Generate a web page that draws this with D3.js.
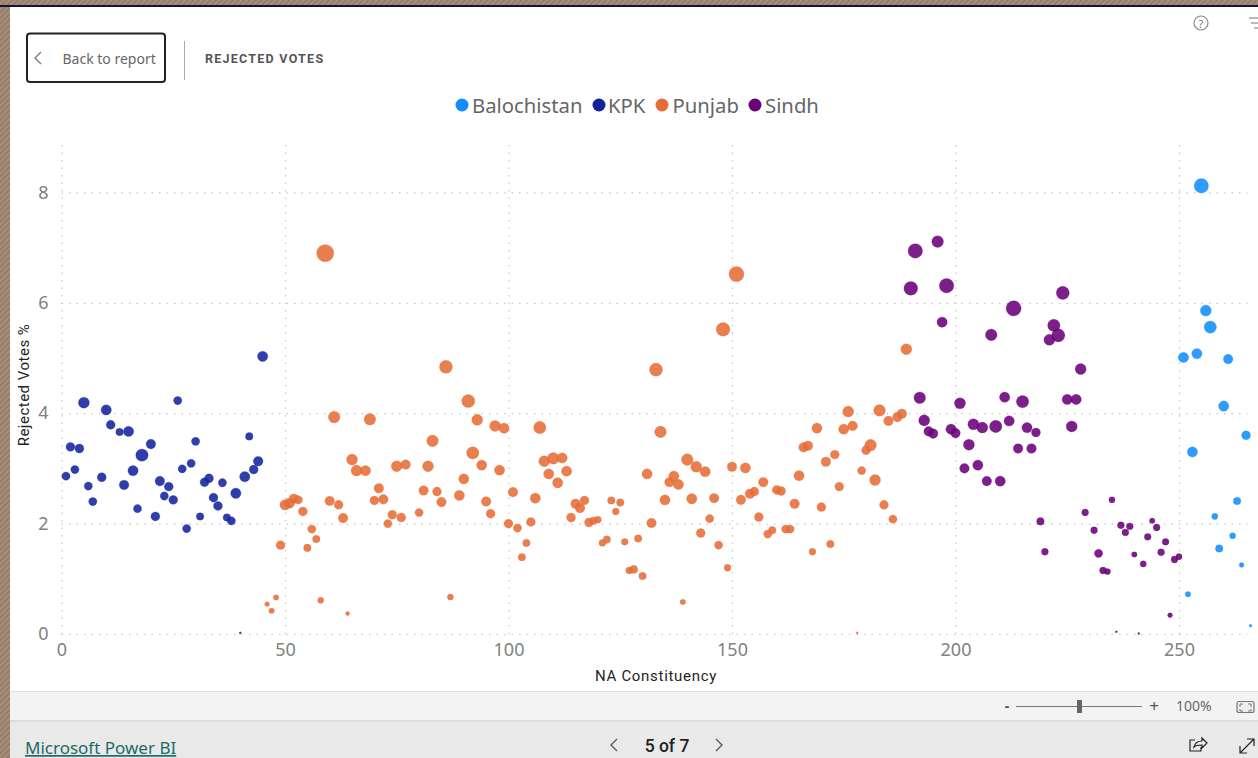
<!DOCTYPE html>
<html><head><meta charset="utf-8">
<script src="https://cdnjs.cloudflare.com/ajax/libs/d3/7.8.5/d3.min.js"></script>
<style>
html,body{margin:0;padding:0;background:#fff;overflow:hidden}
svg{display:block}
text{font-family:"Noto Sans","Open Sans",sans-serif}
</style></head><body><svg id="c" width="1258" height="758"></svg>
<script>
const regions = ["Balochistan","KPK","Punjab","Sindh"];
const regionColors = ["#118DFF","#12239E","#E66C37","#6B007B"];
const xTicks = [0,50,100,150,200,250];
const yTicks = [0,2,4,6,8];
const xTitle = "NA Constituency", yTitle = "Rejected Votes %";

const balochistanNA = [251,252,253,254,255,256,257,258,259,260,261,262,263,264,265,266];
const balochistanPct = [5.01,0.72,3.30,5.08,8.12,5.86,5.56,2.13,1.55,4.13,4.98,1.78,2.41,1.25,3.60,0.15];
const balochistanVotes = [225,64,225,225,441,256,324,81,121,225,196,81,121,49,169,16];

const kpkNA = [1,2,3,4,5,6,7,9,10,11,13,14,15,16,17,18,20,21,22,23,24,25,26,27,28,29,30,31,32,33,34,35,36,37,38,39,40,41,42,43,44,45];
const kpkPct = [2.86,3.39,2.98,3.36,4.19,2.68,2.40,2.84,4.06,3.79,3.66,2.70,3.67,2.96,2.27,3.24,3.44,2.13,2.77,2.50,2.67,2.43,4.23,2.99,1.91,3.09,3.49,2.13,2.75,2.82,2.47,2.32,2.74,2.11,2.05,2.55,0.02,2.85,3.58,2.98,3.13,5.03];
const kpkVotes = [144,169,144,169,256,144,144,169,225,169,121,196,225,225,144,324,196,169,196,144,169,169,144,144,144,144,144,121,169,169,169,169,144,121,144,225,9,225,121,169,196,225];

const punjabNA = [46,47,48,49,50,51,52,53,54,55,56,57,58,59,60,61,62,63,64,65,66,68,69,70,71,72,73,74,75,76,77,80,
81,82,83,84,85,86,87,89,90,91,92,93,94,95,96,97,98,99,100,
101,102,103,104,105,106,107,108,109,110,111,112,113,114,115,116,117,118,119,120,
121,122,123,124,125,126,127,128,129,130,131,132,133,134,135,136,137,138,139,140,
141,142,143,144,145,146,147,148,149,150,151,152,153,154,155,156,157,158,159,160,
161,162,163,164,165,166,167,168,169,170,171,172,173,174,175,176,177,178,179,180,
181,182,183,184,185,186,187,188,189];
const punjabPct = [0.54,0.42,0.66,1.61,2.34,2.37,2.45,2.43,2.22,1.56,1.90,1.72,0.61,6.90,2.41,3.93,2.34,2.10,0.37,3.16,2.96,2.96,3.89,2.42,2.64,2.44,2.00,2.16,3.04,2.11,3.07,2.20,
2.60,3.04,3.50,2.58,2.39,4.84,0.67,2.51,2.81,4.22,3.28,3.88,3.06,2.40,2.18,3.77,2.97,3.73,2.00,
2.57,1.92,1.39,1.65,2.03,2.46,3.74,3.13,2.90,3.18,2.74,3.19,2.95,2.11,2.36,2.28,2.42,2.02,2.05,2.07,
1.65,1.71,2.42,2.22,2.38,1.67,1.15,1.17,1.73,1.05,2.90,2.01,4.79,3.66,2.43,2.75,2.86,2.71,0.58,3.16,
2.45,3.03,1.83,2.94,2.09,2.46,1.61,5.52,1.20,3.03,6.52,2.43,3.01,2.54,2.58,2.12,2.75,1.81,1.88,2.61,
2.59,1.90,1.90,2.36,2.87,3.38,3.41,1.49,3.73,2.30,3.12,1.63,3.25,2.67,3.71,4.03,3.77,0.02,2.96,3.33,
3.42,2.79,4.05,2.34,3.86,2.08,3.93,3.99,5.16];
const punjabVotes = [49,64,64,169,225,225,196,144,169,121,144,121,81,625,196,289,169,196,36,256,256,225,289,169,196,196,144,169,256,169,196,144,
196,256,289,169,196,361,81,225,225,361,324,256,225,196,169,256,225,225,169,
196,144,121,121,169,225,324,256,225,289,225,225,225,169,196,196,169,169,121,100,
100,121,121,100,121,100,100,144,121,121,225,196,361,289,225,196,225,225,64,289,
225,256,169,225,144,196,144,400,100,196,484,196,225,196,169,169,196,144,121,169,
169,144,144,196,225,196,196,100,225,169,196,121,169,169,225,256,196,9,144,169,
289,256,289,169,196,144,196,196,256];

const sindhNA = [190,191,192,193,194,195,196,197,198,199,200,201,202,203,204,205,206,207,208,209,210,211,212,213,214,215,216,217,218,219,220,221,222,223,224,225,226,227,228,229,231,232,233,234,235,236,237,238,239,240,241,242,243,244,245,246,247,248,249,250];
const sindhPct = [6.26,6.94,4.28,3.87,3.67,3.63,7.11,5.65,6.31,3.71,3.64,4.18,3.00,3.43,3.80,3.06,3.74,2.77,5.42,3.76,2.77,4.29,3.86,5.90,3.36,4.21,3.74,3.36,3.65,2.04,1.49,5.33,5.59,5.41,6.18,4.25,3.76,4.25,4.80,2.20,1.88,1.46,1.15,1.13,2.43,0.04,1.97,1.84,1.95,1.44,0.01,1.27,1.76,2.05,1.93,1.48,1.67,0.34,1.35,1.40];
const sindhVotes = [400,441,289,256,196,196,289,225,441,225,196,256,196,256,256,225,256,196,289,324,225,225,225,484,196,324,225,196,169,121,100,256,324,361,361,225,256,225,256,100,100,144,100,81,81,9,100,100,100,64,9,81,100,64,100,100,100,49,100,81];

const series = [
  {name:regions[0],color:regionColors[0],na:balochistanNA,pct:balochistanPct,votes:balochistanVotes},
  {name:regions[1],color:regionColors[1],na:kpkNA,pct:kpkPct,votes:kpkVotes},
  {name:regions[2],color:regionColors[2],na:punjabNA,pct:punjabPct,votes:punjabVotes},
  {name:regions[3],color:regionColors[3],na:sindhNA,pct:sindhPct,votes:sindhVotes}
];

const svg = d3.select("#c");
const defs = svg.append("defs");
const pat = defs.append("pattern").attr("id","hatch").attr("width",4).attr("height",4)
  .attr("patternUnits","userSpaceOnUse").attr("patternTransform","rotate(45)");
pat.append("rect").attr("width",4).attr("height",4).attr("fill","#a58f79");
pat.append("rect").attr("width",1.5).attr("height",4).attr("fill","#8f7965");

// frame
svg.append("rect").attr("width",1258).attr("height",758).attr("fill","url(#hatch)");
svg.append("rect").attr("x",10).attr("y",5).attr("width",1248).attr("height",753).attr("fill","#fff");
svg.append("rect").attr("x",0).attr("y",5).attr("width",1258).attr("height",2).attr("fill","#16103c");

// scales
const x = d3.scaleLinear().domain([0,265]).range([61.5,61.5+265*4.47]);
const y = d3.scaleLinear().domain([0,8.95]).range([634,634-8.95*55.2]);
const r = d3.scaleSqrt().domain([0,625]).range([0,8.6]);

// axes and grid
const gridStyle = g => g.selectAll("line").attr("stroke","#c8c8c8").attr("stroke-width",1.2).attr("stroke-dasharray","1.5 6");
const gx = svg.append("g").attr("transform","translate(0,634)")
  .call(d3.axisBottom(x).tickValues(xTicks).tickSize(-494).tickPadding(9).tickFormat(d3.format("d")));
gx.select(".domain").remove(); gridStyle(gx);
gx.selectAll("text").attr("fill","#808080").style("font-size","18px");
const gy = svg.append("g").attr("transform","translate(61.5,0)")
  .call(d3.axisLeft(y).tickValues(yTicks).tickSize(-1186).tickPadding(13).tickFormat(d3.format("d")));
gy.select(".domain").remove(); gridStyle(gy);
gy.selectAll("text").attr("fill","#808080").style("font-size","18px");

svg.append("text").attr("x",656).attr("y",681).attr("text-anchor","middle").attr("fill","#252423")
  .style("font-size","15px").style("font-family","Roboto").attr("letter-spacing","0.7").text(xTitle);
svg.append("text").attr("transform","translate(29,385) rotate(-90)").attr("text-anchor","middle").attr("fill","#252423")
  .style("font-size","15px").style("font-family","Roboto").attr("letter-spacing","0.5").text(yTitle);

// points
series.forEach(s=>{
  svg.append("g").attr("class","series").selectAll("circle")
    .data(s.na.map((n,i)=>({na:n,pct:s.pct[i],votes:s.votes[i]})))
    .join("circle")
    .attr("cx",d=>x(d.na)).attr("cy",d=>y(d.pct)).attr("r",d=>r(d.votes))
    .attr("fill",s.color).attr("fill-opacity",0.88)
    .attr("stroke",s.color).attr("stroke-opacity",0.25).attr("stroke-width",1);
});

// legend
const legendX = [462,599,662,755], legendTextX=[472,608,672.5,765];
const lg = svg.append("g");
regions.forEach((n,i)=>{
  lg.append("circle").attr("cx",legendX[i]).attr("cy",105).attr("r",6.5).attr("fill",regionColors[i]);
  lg.append("text").attr("x",legendTextX[i]).attr("y",113).attr("fill","#666")
    .style("font-size","20.3px").style("font-family","'Noto Sans'").text(n);
});

// header chrome
svg.append("rect").attr("x",27).attr("y",33.5).attr("width",138).attr("height",48.5).attr("rx",3)
  .attr("fill","#fff").attr("stroke","#222").attr("stroke-width",2);
const chev = (pts,col,w)=>svg.append("polyline").attr("points",pts).attr("fill","none").attr("stroke",col).attr("stroke-width",w||1.3);
chev("41,52 35,58 41,64","#777");
svg.append("text").attr("x",62.5).attr("y",64).attr("fill","#666").style("font-size","14px").style("font-family","'Noto Sans'").text("Back to report");
svg.append("line").attr("x1",184.5).attr("x2",184.5).attr("y1",41).attr("y2",80).attr("stroke","#aaa");
svg.append("text").attr("x",205).attr("y",63).attr("fill","#555").style("font-size","12.5px").style("font-weight","700").style("font-family","Roboto").attr("letter-spacing","1.25").text("REJECTED VOTES");
svg.append("circle").attr("cx",1201).attr("cy",23).attr("r",7).attr("fill","none").attr("stroke","#888").attr("stroke-width",1.2);
svg.append("text").attr("x",1201).attr("y",27.5).attr("text-anchor","middle").attr("fill","#777").style("font-size","11px").text("?");
[[1249,1258,18],[1251,1258,23],[1254,1258,28]].forEach(l=>svg.append("line").attr("x1",l[0]).attr("x2",l[1]).attr("y1",l[2]).attr("y2",l[2]).attr("stroke","#888").attr("stroke-width",1.2));

// footer chrome
svg.append("rect").attr("x",10).attr("y",691).attr("width",1248).attr("height",30).attr("fill","#f3f3f3");
svg.append("rect").attr("x",10).attr("y",691).attr("width",1248).attr("height",1).attr("fill","#e1e1e1");
svg.append("rect").attr("x",10).attr("y",720).attr("width",1248).attr("height",38).attr("fill","#e9e9e9");
svg.append("rect").attr("x",10).attr("y",720).attr("width",1248).attr("height",2).attr("fill","#dcdcdc");
svg.append("text").attr("x",1007).attr("y",711).attr("text-anchor","middle").attr("fill","#555").style("font-size","14px").style("font-weight","700").text("-");
svg.append("line").attr("x1",1016).attr("x2",1142).attr("y1",706.5).attr("y2",706.5).attr("stroke","#777").attr("stroke-width",1);
svg.append("rect").attr("x",1077).attr("y",700).attr("width",5).attr("height",13).attr("fill","#666");
svg.append("text").attr("x",1154).attr("y",712).attr("text-anchor","middle").attr("fill","#555").style("font-size","17px").text("+");
svg.append("text").attr("x",1176).attr("y",711).attr("fill","#666").style("font-size","14px").text("100%");
svg.append("rect").attr("x",1237).attr("y",701.5).attr("width",17).attr("height",11).attr("rx",2).attr("fill","#eee").attr("stroke","#777").attr("stroke-width",1.2);
svg.append("path").attr("d","M1240 707v-3h3M1248 704h3v3M1251 709v2h-3M1243 711h-3v-2").attr("fill","none").attr("stroke","#777").attr("stroke-width",1);
chev("617,739 611,745 617,751","#555");
chev("716,739 722,745 716,751","#555");
svg.append("text").attr("x",667).attr("y",752).attr("text-anchor","middle").attr("fill","#222").style("font-size","17.5px").style("font-weight","500").style("font-family","Roboto").text("5 of 7");
svg.append("text").attr("x",25).attr("y",754).attr("fill","#1d6b66").style("font-size","17px").style("text-decoration","underline").style("font-family","'Noto Sans'").text("Microsoft Power BI");
svg.append("path").attr("d","M1195 740h-5v11h11v-4M1194 747c1-4 4-6 8-6v-3l5 5-5 5v-3c-3 0-6 0-8 2z").attr("fill","none").attr("stroke","#222").attr("stroke-width",1.2);
svg.append("path").attr("d","M1240 753L1254 739M1247 739h7v7M1240 746v7h7").attr("fill","none").attr("stroke","#222").attr("stroke-width",1.2);
</script></body></html>
